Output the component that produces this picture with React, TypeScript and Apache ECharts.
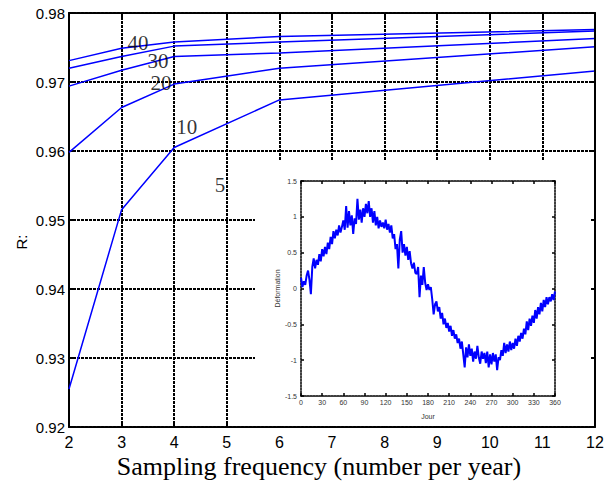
import React, { useEffect, useRef } from "react";
import * as echarts from "echarts";

// Main chart data
const freq = [2, 3, 4, 6, 12];
const r5 = [0.9255, 0.9515, 0.9605, 0.9674, 0.9716];
const r10 = [0.9598, 0.9663, 0.9697, 0.972, 0.9751];
const r20 = [0.9694, 0.9717, 0.9737, 0.9742, 0.9763];
const r30 = [0.972, 0.9737, 0.9752, 0.9758, 0.9774];
const r40 = [0.9731, 0.9749, 0.9758, 0.9766, 0.9776];
const seriesList = [r5, r10, r20, r30, r40];

// Curve labels (text and anchor in data coordinates)
const curveLabels = ["40", "30", "20", "10", "5"];
const labelX = [3.31, 3.69, 3.75, 4.24, 4.87];
const labelY = [0.97565, 0.97304, 0.96986, 0.9635, 0.9551];

// Inset data: deformation every 2 days (0..360)
const dayStep = 2;
const deformation = [
  0.15, 0.02, 0.1, 0.05, 0.18, 0.25, 0.12, -0.08, 0.3, 0.42,
  0.28, 0.4, 0.33, 0.48, 0.38, 0.55, 0.45, 0.58, 0.48, 0.64,
  0.55, 0.72, 0.62, 0.8, 0.7, 0.82, 0.74, 0.88, 0.78, 0.86,
  0.95, 0.82, 1.15, 0.85, 1.08, 0.88, 1.02, 0.76, 0.98, 0.9,
  1.25, 0.96, 1.1, 0.92, 1.12, 1.0, 1.18, 1.05, 1.22, 1.0,
  1.12, 0.92, 1.08, 0.88, 1.0, 0.84, 0.95, 0.86, 0.92, 0.84,
  0.96, 0.82, 0.9, 0.78, 0.88, 0.7, 0.76, 0.55, 0.62, 0.28,
  0.68, 0.8, 0.5, 0.62, 0.46, 0.58, 0.4, 0.52, 0.35, 0.28,
  0.36, 0.22, 0.2, 0.3, -0.12, 0.18, 0.05, 0.3, 0.08, -0.02,
  0.06, -0.02, 0.02, -0.15, -0.36, -0.22, -0.18, -0.32, -0.26, -0.42,
  -0.34, -0.5, -0.42, -0.55, -0.48, -0.6, -0.52, -0.66, -0.58, -0.7,
  -0.64, -0.76, -0.7, -0.84, -0.74, -0.92, -1.1, -0.82, -0.96, -0.78,
  -0.94, -0.84, -1.02, -0.88, -0.98, -0.8, -0.96, -1.05, -0.88, -0.98,
  -0.9, -1.04, -0.88, -1.1, -0.92, -1.06, -0.9, -1.02, -0.92, -1.14,
  -0.96, -1.0, -0.86, -0.94, -0.76, -0.9, -0.78, -0.88, -0.74, -0.86,
  -0.76, -0.84, -0.7, -0.8, -0.66, -0.74, -0.62, -0.7, -0.56, -0.64,
  -0.46, -0.58, -0.42, -0.52, -0.38, -0.48, -0.3, -0.42, -0.26, -0.36,
  -0.2, -0.32, -0.16, -0.26, -0.12, -0.22, -0.12, -0.18, -0.08, -0.16,
  -0.04,
];

const SANS = "'Liberation Sans', Arial, sans-serif";
const SERIF = "'Liberation Serif', 'Times New Roman', serif";

export default function App() {
  const ref = useRef<HTMLDivElement>(null);
  useEffect(() => {
    if (!ref.current) return;
    const chart = echarts.init(ref.current, undefined, { renderer: "svg" });
    const dotted = { color: "#000", width: 2, type: [3, 1] as number[] };
    const dottedThin = { color: "#000", width: 1.5, type: [2, 1] as number[] };
    const tickMain = { show: true, inside: true, length: 4, lineStyle: { color: "#000", width: 2 } };
    const tickInset = { show: true, inside: true, length: 3, lineStyle: { color: "#000", width: 1.5 } };

    const mainLines = seriesList.map((s) => ({
      type: "line",
      xAxisIndex: 0,
      yAxisIndex: 0,
      data: s.map((v, j) => [freq[j], v]),
      showSymbol: false,
      symbol: "none",
      lineStyle: { color: "#0000ff", width: 1.5 },
      z: 2,
      silent: true,
    }));

    const option: any = {
      animation: false,
      backgroundColor: "#fff",
      grid: [
        { left: 69, top: 13, width: 526, height: 414, containLabel: false, outerBoundsMode: "none" },
        { left: 301, top: 181, width: 254, height: 215, containLabel: false, outerBoundsMode: "none" },
      ],
      xAxis: [
        {
          gridIndex: 0,
          type: "value",
          min: 2,
          max: 12,
          interval: 1,
          position: "bottom",
          axisLine: { show: true, onZero: false, lineStyle: dotted },
          axisTick: tickMain,
          axisLabel: { color: "#000", fontFamily: SANS, fontSize: 16, lineHeight: 14, margin: 8 },
          splitLine: { show: true, lineStyle: dotted },
          name: "Sampling frequency (number per year)",
          nameLocation: "middle",
          nameGap: 27,
          nameMoveOverlap: false,
          nameTextStyle: {
            color: "#000",
            fontFamily: SERIF,
            fontSize: 26,
            lineHeight: 24,
            padding: [0, 26, 0, 0],
          },
          z: 0,
        },
        {
          gridIndex: 0,
          type: "value",
          min: 2,
          max: 12,
          interval: 1,
          position: "top",
          axisLine: { show: true, onZero: false, lineStyle: dotted },
          axisTick: tickMain,
          axisLabel: { show: false },
          splitLine: { show: false },
          z: 0,
        },
        {
          gridIndex: 1,
          type: "value",
          min: 0,
          max: 360,
          interval: 30,
          position: "bottom",
          axisLine: { show: true, onZero: false, lineStyle: dottedThin },
          axisTick: tickInset,
          axisLabel: { color: "#333", fontFamily: SANS, fontSize: 7, margin: 3 },
          splitLine: { show: false },
          name: "Jour",
          nameLocation: "middle",
          nameGap: 17,
          nameMoveOverlap: false,
          nameTextStyle: { color: "#333", fontFamily: SANS, fontSize: 7 },
          z: 11,
        },
        {
          gridIndex: 1,
          type: "value",
          min: 0,
          max: 360,
          interval: 30,
          position: "top",
          axisLine: { show: true, onZero: false, lineStyle: dottedThin },
          axisTick: tickInset,
          axisLabel: { show: false },
          splitLine: { show: false },
          z: 11,
        },
      ],
      yAxis: [
        {
          gridIndex: 0,
          type: "value",
          min: 0.92,
          max: 0.98,
          interval: 0.01,
          position: "left",
          axisLine: { show: true, onZero: false, lineStyle: dotted },
          axisTick: tickMain,
          axisLabel: {
            color: "#000",
            fontFamily: SANS,
            fontSize: 15,
            margin: 4,
            formatter: (v: number) => v.toFixed(2),
          },
          splitLine: { show: true, lineStyle: dotted },
          name: "R:",
          nameLocation: "middle",
          nameRotate: 90,
          nameGap: 40,
          nameMoveOverlap: false,
          nameTextStyle: { color: "#000", fontFamily: SANS, fontSize: 15, padding: [0, 44, 0, 0] },
          z: 0,
        },
        {
          gridIndex: 0,
          type: "value",
          min: 0.92,
          max: 0.98,
          interval: 0.01,
          position: "right",
          axisLine: { show: true, onZero: false, lineStyle: dotted },
          axisTick: tickMain,
          axisLabel: { show: false },
          splitLine: { show: false },
          z: 12,
        },
        {
          gridIndex: 1,
          type: "value",
          min: -1.5,
          max: 1.5,
          interval: 0.5,
          position: "left",
          axisLine: { show: true, onZero: false, lineStyle: dottedThin },
          axisTick: tickInset,
          axisLabel: { color: "#333", fontFamily: SANS, fontSize: 7, margin: 4 },
          splitLine: { show: false },
          name: "Déformation",
          nameLocation: "middle",
          nameRotate: 90,
          nameGap: 20,
          nameMoveOverlap: false,
          nameTextStyle: { color: "#333", fontFamily: SANS, fontSize: 7 },
          z: 11,
        },
        {
          gridIndex: 1,
          type: "value",
          min: -1.5,
          max: 1.5,
          interval: 0.5,
          position: "right",
          axisLine: { show: true, onZero: false, lineStyle: dottedThin },
          axisTick: tickInset,
          axisLabel: { show: false },
          splitLine: { show: false },
          z: 11,
        },
      ],
      graphic: [
        {
          type: "rect",
          shape: { x: 255, y: 160, width: 339, height: 266 },
          style: { fill: "#fff" },
          z: 10,
          silent: true,
        },
      ],
      series: [
        ...mainLines,
        {
          type: "scatter",
          xAxisIndex: 0,
          yAxisIndex: 0,
          data: curveLabels.map((t, i) => ({ value: [labelX[i], labelY[i]], name: t })),
          symbolSize: 1,
          itemStyle: { color: "rgba(0,0,0,0)" },
          label: {
            show: true,
            position: "inside",
            formatter: (p: any) => p.name,
            color: "#000",
            fontFamily: SERIF,
            fontSize: 21,
            lineHeight: 18,
          },
          z: 3,
          silent: true,
        },
        {
          type: "line",
          xAxisIndex: 2,
          yAxisIndex: 2,
          data: deformation.map((v, i) => [i * dayStep, v]),
          showSymbol: false,
          symbol: "none",
          lineStyle: { color: "#0000ff", width: 2 },
          z: 12,
          silent: true,
        },
      ],
    };
    chart.setOption(option);
    return () => chart.dispose();
  }, []);
  return (
    <div
      ref={ref}
      style={{ position: "fixed", left: 0, top: 0, width: 606, height: 481, background: "#fff" }}
    />
  );
}
